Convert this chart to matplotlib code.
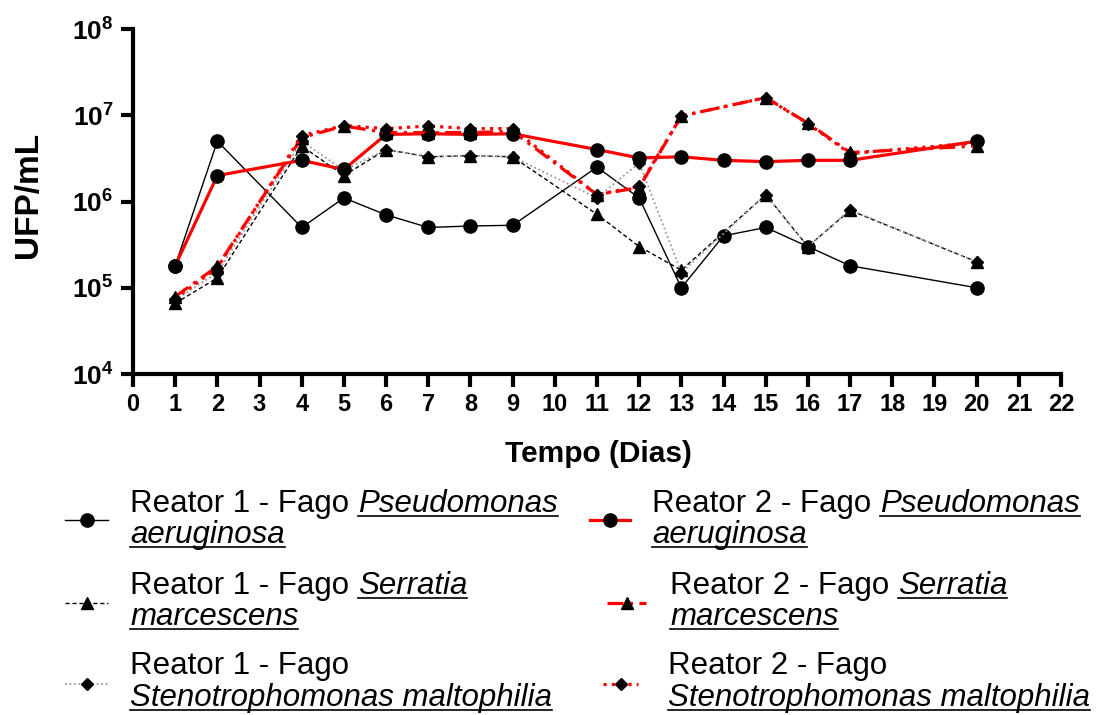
import matplotlib
matplotlib.use('Agg')
import matplotlib.pyplot as plt
from matplotlib.lines import Line2D
from matplotlib.ticker import NullLocator

plt.rcParams['font.family'] = ['Liberation Sans', 'DejaVu Sans']
plt.rcParams['mathtext.fontset'] = 'custom'
plt.rcParams['mathtext.rm'] = 'Liberation Sans:bold'
plt.rcParams['mathtext.bf'] = 'Liberation Sans:bold'

# days sampled
days_pa = [1, 2, 4, 5, 6, 7, 8, 9, 11, 12, 13, 14, 15, 16, 17, 20]
days_other = [1, 2, 4, 5, 6, 7, 8, 9, 11, 12, 13, 15, 16, 17, 20]

# UFP/mL
r1_pseudomonas = [1.8e5, 5.0e6, 5.0e5, 1.1e6, 7.0e5, 5.0e5, 5.2e5, 5.3e5,
                  2.5e6, 1.1e6, 1.0e5, 4.0e5, 5.0e5, 3.0e5, 1.8e5, 1.0e5]
r2_pseudomonas = [1.8e5, 2.0e6, 3.0e6, 2.35e6, 6.0e6, 6.1e6, 6.0e6, 6.1e6,
                  4.0e6, 3.2e6, 3.3e6, 3.0e6, 2.9e6, 3.0e6, 3.0e6, 5.0e6]
r1_serratia = [6.6e4, 1.3e5, 4.4e6, 2.0e6, 4.0e6, 3.3e6, 3.4e6, 3.3e6,
               7.1e5, 3.0e5, 1.6e5, 1.2e6, 3.0e5, 7.9e5, 2.0e5]
r2_serratia = [7.9e4, 1.77e5, 5.5e6, 7.5e6, 6.3e6, 6.3e6, 6.3e6, 6.5e6,
               1.2e6, 1.45e6, 9.8e6, 1.6e7, 8.1e6, 3.7e6, 4.4e6]
r1_steno = [7.2e4, 1.5e5, 5.0e6, 2.3e6, 4.0e6, 3.3e6, 3.4e6, 3.3e6,
            1.1e6, 2.8e6, 1.5e5, 1.2e6, 3.0e5, 8.0e5, 2.0e5]
r2_steno = [7.5e4, 1.7e5, 5.8e6, 7.6e6, 7.0e6, 7.5e6, 7.0e6, 7.0e6,
            1.2e6, 1.5e6, 9.8e6, 1.6e7, 8.0e6, 3.6e6, 4.8e6]

x_ticks = list(range(0, 23))
y_ticks = [1e4, 1e5, 1e6, 1e7, 1e8]
y_tick_labels = [r'$\mathbf{10^{4}}$', r'$\mathbf{10^{5}}$', r'$\mathbf{10^{6}}$',
                 r'$\mathbf{10^{7}}$', r'$\mathbf{10^{8}}$']

RED = '#ff0000'
W, H = 1097, 715

# style per series: line kwargs
styles = {
    'r1_pa': dict(color='black', lw=1.0, ls='-', marker='o', ms=9.5),
    'r1_sm': dict(color='black', lw=1.0, dashes=(3, 2), marker='^', ms=8),
    'r1_st': dict(color='#9a9a9a', lw=1.3, dashes=(1, 1.5), marker='D', ms=6),
    'r2_pa': dict(color=RED, lw=2.3, ls='-', marker='o', ms=9.5),
    'r2_sm': dict(color=RED, lw=2.3, dashes=(5, 2, 1, 2), marker='^', ms=8),
    'r2_st': dict(color=RED, lw=2.3, dashes=(1, 1.6), marker='D', ms=6),
}
mk = dict(mfc='black', mec='black')

fig = plt.figure(figsize=(W / 100, H / 100), dpi=100)
ax = fig.add_axes([133 / W, 1 - 374 / H, 928 / W, 345 / H])

ax.plot(days_pa, r1_pseudomonas, **styles['r1_pa'], **mk, zorder=3)
ax.plot(days_other, r1_serratia, **styles['r1_sm'], **mk, zorder=3)
ax.plot(days_other, r1_steno, **styles['r1_st'], **mk, zorder=3)
ax.plot(days_pa, r2_pseudomonas, **styles['r2_pa'], **mk, zorder=4)
ax.plot(days_other, r2_serratia, **styles['r2_sm'], **mk, zorder=4)
ax.plot(days_other, r2_steno, **styles['r2_st'], **mk, zorder=4)

ax.set_yscale('log')
ax.set_xlim(0, 22)
ax.set_ylim(1e4, 1e8)
ax.set_xticks(x_ticks)
ax.set_xticklabels([str(v) for v in x_ticks], fontsize=17, fontweight='bold')
ax.set_yticks(y_ticks)
ax.set_yticklabels(y_tick_labels, fontsize=19)
ax.yaxis.set_minor_locator(NullLocator())
ax.tick_params(direction='out', length=9, width=3, pad=5)
for s in ['top', 'right']:
    ax.spines[s].set_visible(False)
for s in ['left', 'bottom']:
    ax.spines[s].set_linewidth(3)

fig.text(28 / W, 1 - 195 / H, 'UFP/mL', rotation=90, ha='center', va='center',
         fontsize=24, fontweight='bold')
fig.text(598 / W, 1 - 454 / H, 'Tempo (Dias)', ha='center', va='center',
         fontsize=21.5, fontweight='bold')

# legend, built by hand so the species names can be underlined
LFS = 22.5
renderer = fig.canvas.get_renderer()


def px(x, y):
    return x / W, 1 - y / H


def text_width(t):
    return t.get_window_extent(renderer).width


def put(x, y, s, italic=False, underline=False):
    t = fig.text(*px(x, y), s, fontsize=LFS, va='baseline', ha='left',
                 style='italic' if italic else 'normal')
    w = text_width(t)
    if underline:
        fig.add_artist(Line2D([x / W, (x + w) / W], [1 - (y + 4) / H] * 2,
                              transform=fig.transFigure, color='black', lw=1.2))
    return w


probe = fig.text(0, 0, 'a a', fontsize=LFS)
probe2 = fig.text(0, 0, 'aa', fontsize=LFS)
space = text_width(probe) - text_width(probe2)
probe.remove()
probe2.remove()

entries = [
    # key, handle x0, x1, handle y, text x, baseline 1, baseline 2, line1 prefix, line1 italic, line2
    ('r1_pa', 65, 108, 520, 130, 512, 543, 'Reator 1 - Fago', 'Pseudomonas', 'aeruginosa'),
    ('r1_sm', 65, 108, 603, 130, 594, 625, 'Reator 1 - Fago', 'Serratia', 'marcescens'),
    ('r1_st', 65, 108, 684, 130, 674, 706, 'Reator 1 - Fago', '', 'Stenotrophomonas maltophilia'),
    ('r2_pa', 590, 630, 520, 652, 512, 543, 'Reator 2 - Fago', 'Pseudomonas', 'aeruginosa'),
    ('r2_sm', 607, 646, 603, 670, 594, 625, 'Reator 2 - Fago', 'Serratia', 'marcescens'),
    ('r2_st', 603, 638, 684, 668, 674, 706, 'Reator 2 - Fago', '', 'Stenotrophomonas maltophilia'),
]

for key, hx0, hx1, hy, tx, b1, b2, pre, ital, line2 in entries:
    st = dict(styles[key])
    marker = st.pop('marker')
    ms = st.pop('ms')
    fig.add_artist(Line2D([hx0 / W, hx1 / W], [1 - hy / H] * 2,
                          transform=fig.transFigure, **st))
    fig.add_artist(Line2D([(hx0 + hx1) / 2 / W], [1 - hy / H],
                          transform=fig.transFigure, marker=marker, ms=ms,
                          ls='none', **mk))
    w = put(tx, b1, pre)
    if ital:
        put(tx + w + space, b1, ital, italic=True, underline=True)
    put(tx, b2, line2, italic=True, underline=True)

fig.savefig('out.png', dpi=100)
